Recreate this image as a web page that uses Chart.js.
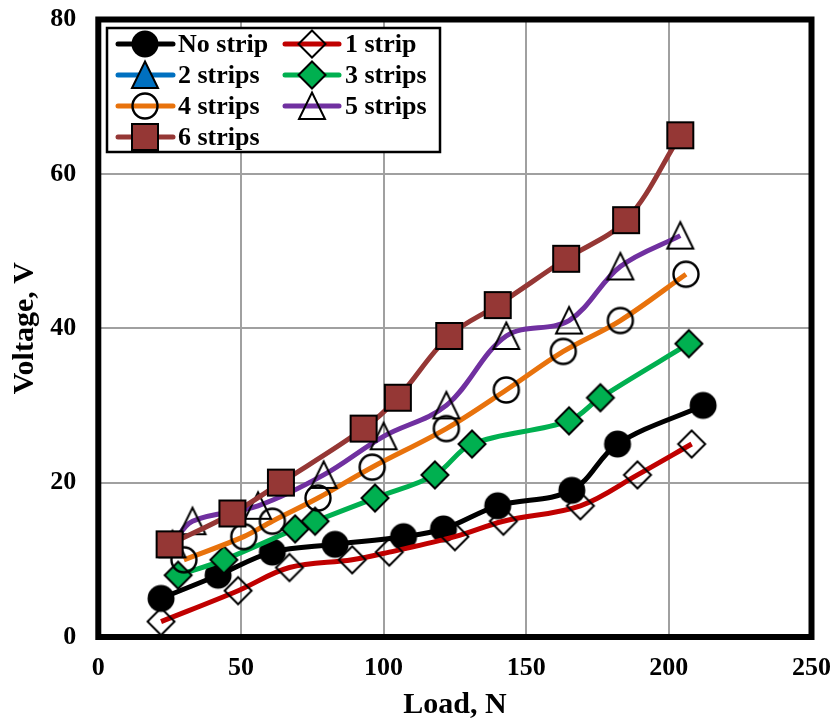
<!DOCTYPE html>
<html>
<head>
<meta charset="utf-8">
<script src="https://cdn.jsdelivr.net/npm/chart.js@4/dist/chart.umd.min.js"></script>
<style>
html,body{margin:0;padding:0;background:#fff;}
#wrap{width:835px;height:724px;position:relative;}
</style>
</head>
<body>
<div id="wrap"><canvas id="c" width="835" height="724"></canvas></div>
<script>
// ---- data ----
const seriesNames = ["No strip", "1 strip", "2 strips", "3 strips", "4 strips", "5 strips", "6 strips"];
const loadNoStrip = [22, 42, 61, 83, 107, 121, 140, 166, 182, 212];
const voltNoStrip = [5, 8, 11, 12, 13, 14, 17, 19, 25, 30];
const load1Strip = [22, 49, 67, 89, 102, 125, 142, 169, 189, 208];
const volt1Strip = [2, 6, 9, 10, 11, 13, 15, 17, 21, 25];
const load2Strips = [];
const volt2Strips = [];
const load3Strips = [28, 44, 69, 76, 97, 118, 131, 165, 176, 207];
const volt3Strips = [8, 10, 14, 15, 18, 21, 25, 28, 31, 38];
const load4Strips = [30, 51, 61, 77, 96, 122, 143, 163, 183, 206];
const volt4Strips = [10, 13, 15, 18, 22, 27, 32, 37, 41, 47];
const load5Strips = [26, 33, 56, 79, 100, 122, 143, 165, 183, 204];
const volt5Strips = [12, 15, 17, 21, 26, 30, 39, 41, 48, 52];
const load6Strips = [25, 47, 64, 93, 105, 123, 140, 164, 185, 204];
const volt6Strips = [12, 16, 20, 27, 31, 39, 43, 49, 54, 65];
const xTicks = [0, 50, 100, 150, 200, 250];
const yTicks = [0, 20, 40, 60, 80];

const FONT = "'Liberation Serif','Times New Roman',serif";

// ---- marker images ----
function mk(draw){
  const c = document.createElement('canvas');
  c.width = 36; c.height = 36;
  const g = c.getContext('2d');
  g.translate(18,18);
  draw(g);
  return c;
}
const mCircleFilled = mk(g=>{g.beginPath();g.arc(0,0,13.5,0,Math.PI*2);g.fillStyle='#000';g.fill();});
const mDiamondOpen = mk(g=>{g.beginPath();g.moveTo(0,-13.5);g.lineTo(13.5,0);g.lineTo(0,13.5);g.lineTo(-13.5,0);g.closePath();g.lineWidth=2;g.strokeStyle='#000';g.stroke();});
const mTriBlue = mk(g=>{g.beginPath();g.moveTo(0,-13.5);g.lineTo(13,13);g.lineTo(-13,13);g.closePath();g.fillStyle='#0070C0';g.fill();g.lineWidth=2;g.strokeStyle='#000';g.stroke();});
const mDiamondGreen = mk(g=>{g.beginPath();g.moveTo(0,-13.5);g.lineTo(13.5,0);g.lineTo(0,13.5);g.lineTo(-13.5,0);g.closePath();g.fillStyle='#00B050';g.fill();g.lineWidth=2;g.strokeStyle='#000';g.stroke();});
const mCircleOpen = mk(g=>{g.beginPath();g.arc(0,0,12.5,0,Math.PI*2);g.lineWidth=2.4;g.strokeStyle='#000';g.stroke();});
const mTriOpen = mk(g=>{g.beginPath();g.moveTo(0,-13.5);g.lineTo(13,13);g.lineTo(-13,13);g.closePath();g.lineWidth=2;g.strokeStyle='#000';g.stroke();});
const mSquare = mk(g=>{g.beginPath();g.rect(-13,-13,26,26);g.fillStyle='#953735';g.fill();g.lineWidth=2;g.strokeStyle='#000';g.stroke();});

const colors = ['#000000', '#C00000', '#0070C0', '#00B050', '#E8720C', '#7030A0', '#953735'];
const markers = [mCircleFilled, mDiamondOpen, mTriBlue, mDiamondGreen, mCircleOpen, mTriOpen, mSquare];
const loads = [loadNoStrip, load1Strip, load2Strips, load3Strips, load4Strips, load5Strips, load6Strips];
const volts = [voltNoStrip, volt1Strip, volt2Strips, volt3Strips, volt4Strips, volt5Strips, volt6Strips];

const datasets = seriesNames.map((name, i) => ({
  label: name,
  data: loads[i].map((x, j) => ({x: x, y: volts[i][j]})),
  borderColor: colors[i],
  backgroundColor: colors[i],
  borderWidth: 5,
  tension: 0.35,
  pointStyle: markers[i],
  pointRadius: 14,
  order: seriesNames.length - i,
  clip: false
}));

// ---- plugins ----
const frame = {
  id: 'frame',
  afterDatasetsDraw(chart){
    const {ctx, chartArea: a} = chart;
    ctx.save();
    ctx.strokeStyle = '#000';
    ctx.lineWidth = 6;
    ctx.lineJoin = 'miter';
    ctx.strokeRect(a.left, a.top, a.right - a.left, a.bottom - a.top);
    ctx.restore();
  }
};
const legendBox = {
  id: 'legendBox',
  afterDraw(chart){
    const ctx = chart.ctx;
    ctx.save();
    ctx.fillStyle = '#fff';
    ctx.fillRect(107, 28, 333, 124);
    ctx.strokeStyle = '#000';
    ctx.lineWidth = 2.5;
    ctx.strokeRect(107, 28, 333, 124);
    const rowsY = [44, 75, 106, 137];
    const cols = [{l:118, r:173, m:145, t:178}, {l:285, r:339, m:312, t:345}];
    ctx.font = 'bold 26px ' + FONT;
    ctx.textBaseline = 'middle';
    ctx.fillStyle = '#000';
    seriesNames.forEach((name, i) => {
      const col = cols[i % 2];
      const y = rowsY[Math.floor(i / 2)];
      ctx.beginPath();
      ctx.moveTo(col.l, y); ctx.lineTo(col.r, y);
      ctx.strokeStyle = colors[i]; ctx.lineWidth = 5; ctx.lineCap = 'round';
      ctx.stroke();
      const m = markers[i];
      ctx.drawImage(m, col.m - m.width / 2, y - m.height / 2);
      ctx.fillStyle = '#000';
      ctx.fillText(name, col.t, y + 1);
    });
    ctx.restore();
  }
};

function zeroPad(s){ s.paddingTop = 0; s.paddingBottom = 0; s.paddingLeft = 0; s.paddingRight = 0; }

new Chart(document.getElementById('c'), {
  type: 'line',
  data: { datasets },
  options: {
    responsive: false,
    animation: false,
    events: [],
    layout: { padding: { top: 19.5, right: 23.5, left: 0, bottom: 0 } },
    plugins: { legend: { display: false }, tooltip: { enabled: false } },
    scales: {
      x: {
        type: 'linear', min: 0, max: 250,
        afterBuildTicks: s => { s.ticks = xTicks.map(v => ({value: v})); },
        afterFit: s => { s.height = 87; zeroPad(s); },
        grid: { color: '#a0a0a0', lineWidth: 2, drawTicks: false },
        border: { display: false },
        ticks: { color: '#000', font: { family: FONT, size: 26, weight: 'bold' }, padding: 16, maxRotation: 0 },
        title: { display: true, text: 'Load, N', color: '#000', font: { family: FONT, size: 30, weight: 'bold' }, padding: { top: 0, bottom: 1 } }
      },
      y: {
        type: 'linear', min: 0, max: 80,
        afterBuildTicks: s => { s.ticks = yTicks.map(v => ({value: v})); },
        afterFit: s => { s.width = 98.3; zeroPad(s); },
        grid: { color: '#a0a0a0', lineWidth: 2, drawTicks: false },
        border: { display: false },
        ticks: { color: '#000', font: { family: FONT, size: 26, weight: 'bold' }, padding: 22 },
        title: { display: true, text: 'Voltage, V', color: '#000', font: { family: FONT, size: 30, weight: 'bold' }, padding: { top: 7, bottom: 0 } }
      }
    }
  },
  plugins: [frame, legendBox]
});
</script>
</body>
</html>
